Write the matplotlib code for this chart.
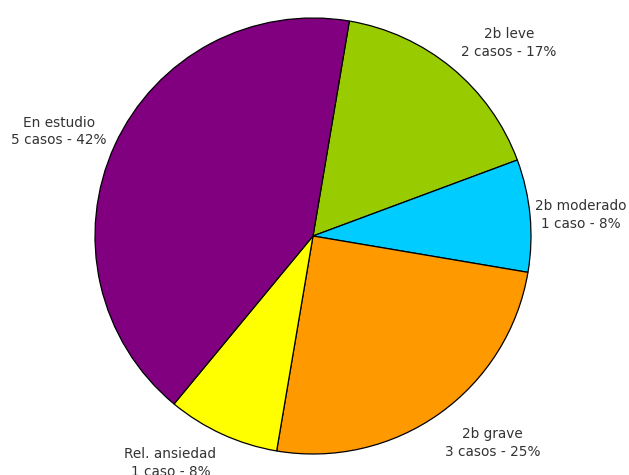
import matplotlib
matplotlib.use('Agg')
import matplotlib.pyplot as plt

categories = ['2b leve', '2b moderado', '2b grave', 'Rel. ansiedad', 'En estudio']
casos = [2, 1, 3, 1, 5]
colors = ['#99CC00', '#00CCFF', '#FF9900', '#FFFF00', '#800080']

# label centres, in units of the pie radius
label_xy = [(0.899, 0.885), (1.228, 0.096), (0.823, -0.950),
            (-0.654, -1.041), (-1.165, 0.478)]

total = sum(casos)
labels = []
for cat, n in zip(categories, casos):
    word = 'caso' if n == 1 else 'casos'
    labels.append('%s\n%d %s - %d%%' % (cat, n, word, round(100 * n / total)))

fig = plt.figure(figsize=(6.29, 4.75), dpi=100)
ax = fig.add_axes([95 / 629, 21 / 475, 436 / 629, 436 / 475])

wedges, texts = ax.pie(casos, colors=colors, startangle=80.4,
                       counterclock=False,
                       wedgeprops=dict(edgecolor='black', linewidth=0.9))
for lab, (x, y) in zip(labels, label_xy):
    ax.text(x, y, lab, ha='center', va='center', fontsize=9.8,
            color='#333333', linespacing=1.3)

ax.set_xlim(-1, 1)
ax.set_ylim(-1, 1)
ax.set_aspect('equal')
ax.axis('off')

fig.savefig('out.png', dpi=100)
